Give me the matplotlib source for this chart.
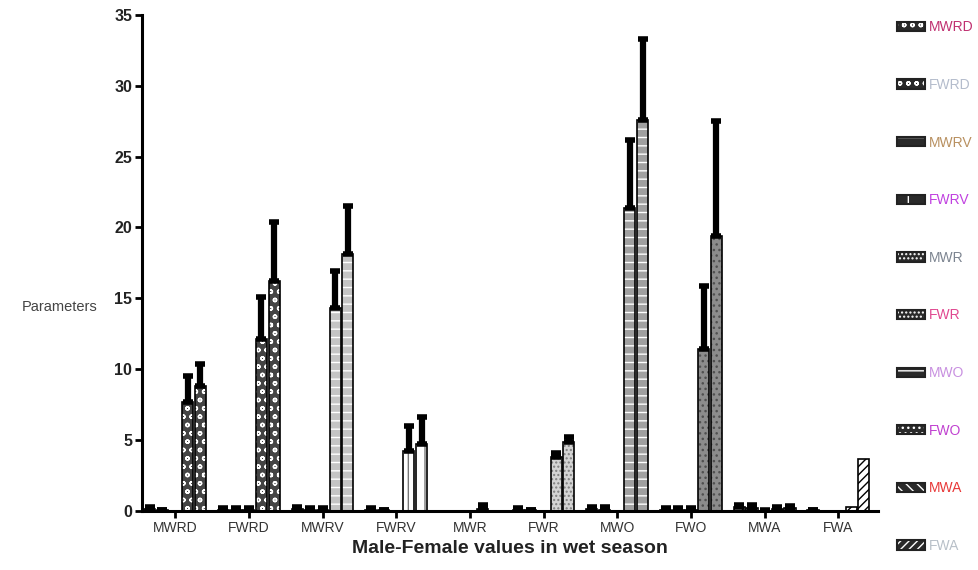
import numpy as np
import matplotlib
matplotlib.use('Agg')
import matplotlib.pyplot as plt
from matplotlib.patches import Patch

plt.rcParams['font.family'] = ['Liberation Sans', 'DejaVu Sans']
plt.rcParams['hatch.linewidth'] = 1.0

#data: 10 groups, 5 bars each
groups = ['MWRD', 'FWRD', 'MWRV', 'FWRV', 'MWR', 'FWR', 'MWO', 'FWO', 'MWA', 'FWA']
means = [
    [0.15, 0.05, 0.0, 7.7, 8.8],
    [0.1, 0.1, 0.1, 12.1, 16.2],
    [0.15, 0.1, 0.1, 14.3, 18.1],
    [0.1, 0.05, 0.0, 4.2, 4.7],
    [0.0, 0.0, 0.0, 0.15, 0.0],
    [0.1, 0.05, 0.0, 3.8, 4.9],
    [0.15, 0.1, 0.0, 21.4, 27.6],
    [0.1, 0.1, 0.1, 11.4, 19.4],
    [0.25, 0.2, 0.02, 0.15, 0.2],
    [0.05, 0.0, 0.0, 0.25, 3.7],
]
err_top = [
    [0.3, 0.1, 0.0, 9.5, 10.4],
    [0.2, 0.2, 0.2, 15.1, 20.4],
    [0.3, 0.2, 0.2, 16.9, 21.5],
    [0.2, 0.1, 0.0, 6.0, 6.6],
    [0.0, 0.0, 0.0, 0.4, 0.0],
    [0.2, 0.1, 0.0, 4.1, 5.2],
    [0.3, 0.25, 0.0, 26.2, 33.3],
    [0.2, 0.2, 0.2, 15.9, 27.5],
    [0.45, 0.4, 0.05, 0.3, 0.35],
    [0.1, 0.0, 0.0, 0.25, 3.7],
]
legend_colors = ['#c03070', '#b4bccc', '#b89060', '#c040e0', '#7c8490',
                 '#e04890', '#c890e0', '#c040d0', '#e83838', '#b8c0c8']

# face colour, hatch, hatch colour for every group
styles = [
    ('#444444', 'oo', 'white'),
    ('#444444', 'oo', 'white'),
    ('#c4c4c4', '--', 'white'),
    ('white', '|', '#777777'),
    ('#c8c8c8', '....', '#777777'),
    ('#d4d4d4', '....', '#808080'),
    ('#a0a0a0', '--', 'white'),
    ('#8c8c8c', '...', '#505050'),
    ('white', '\\\\\\', 'black'),
    ('white', '////', 'black'),
]

fig = plt.figure(figsize=(9.79, 5.70), dpi=100)
ax = fig.add_axes([0.145, 0.1035, 0.752, 0.8705])

step = 0.172
width = 0.15
offsets = (np.arange(5) - 2) * step
for i, g in enumerate(groups):
    xs = i + offsets
    m = np.array(means[i])
    e = np.array(err_top[i])
    face, hatch, hcol = styles[i]
    keep = m > 0
    ax.bar(xs[keep], m[keep], width, color=face, hatch=hatch, edgecolor=hcol, linewidth=0, zorder=2)
    ax.bar(xs[keep], m[keep], width, fill=False, edgecolor='black', linewidth=1.2, zorder=3)
    has_err = e > m
    up = e[has_err] - m[has_err]
    ax.errorbar(xs[has_err], m[has_err], yerr=[np.zeros_like(up), up], fmt='none',
                ecolor='black', elinewidth=4.5, capsize=3.5, capthick=4, zorder=4)

ax.set_xlim(-0.45, 9.54)
ax.set_ylim(0, 35)
ax.set_xticks(range(len(groups)))
ax.set_xticklabels(groups, fontsize=10, color='#333333')
ax.set_yticks(range(0, 36, 5))
for t in ax.get_yticklabels():
    t.set_fontweight('bold')
    t.set_fontsize(11.5)
    t.set_color('#222222')
for s in ['top', 'right']:
    ax.spines[s].set_visible(False)
for s in ['left', 'bottom']:
    ax.spines[s].set_linewidth(2.2)
ax.spines['bottom'].set_zorder(5)
ax.tick_params(axis='both', width=2, length=5, direction='out', pad=2)

ax.set_xlabel('Male-Female values in wet season', fontsize=14, fontweight='bold',
              color='#222222', labelpad=4)
ax.text(-0.06, 0.412, 'Parameters', transform=ax.transAxes, ha='right', va='center',
        fontsize=10.5, color='#444444')

# legend: hatched dark box with a black outline on top
handles = [(Patch(facecolor='#2a2a2a', hatch=styles[i][1], edgecolor='white', linewidth=0),
            Patch(fill=False, edgecolor='#222222', linewidth=1.5))
           for i in range(len(groups))]
leg = ax.legend(handles, groups, loc='upper left', bbox_to_anchor=(1.018, 1.0),
                frameon=False, fontsize=10, labelspacing=3.14, handlelength=2.0,
                handleheight=0.65, handletextpad=0.3, borderaxespad=0.0,
                labelcolor=legend_colors)

fig.savefig('out.png', dpi=100)
